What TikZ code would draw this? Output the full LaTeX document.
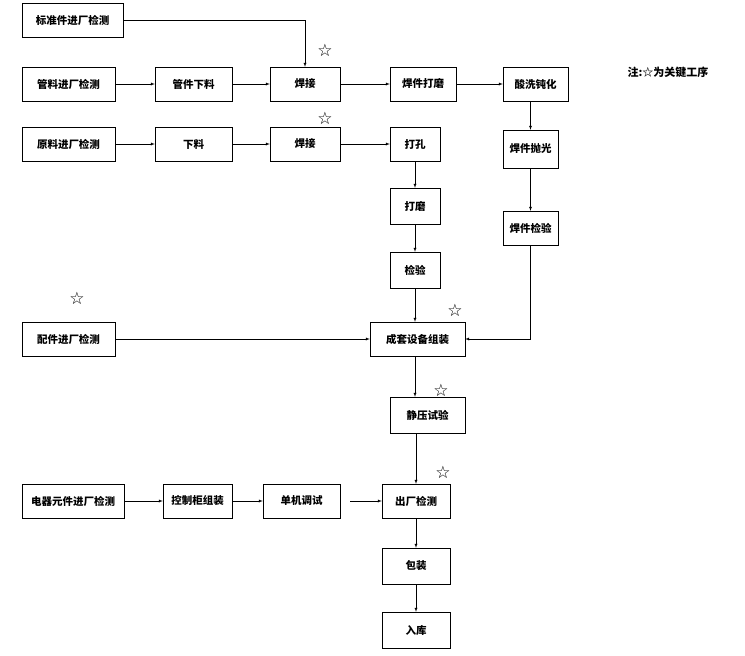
\documentclass[tikz,border=0pt]{standalone}
\usepackage{fontspec}
\newfontfamily\cjk{Noto Sans CJK SC}
\newfontfamily\sym{DejaVu Sans}
\usetikzlibrary{positioning}
\begin{document}
\begin{tikzpicture}[x=1pt, y=-1pt, >=latex,
    box/.style={draw, thin, minimum height=34pt, inner sep=1pt, font=\cjk\bfseries\fontsize{10.5pt}{12pt}\selectfont},
    star/.style={font=\sym\fontsize{17pt}{17pt}\selectfont, inner sep=0pt}]
    \useasboundingbox (0,0) rectangle (745,656);
    % Top rows
    \node[box, minimum width=101pt] (STD) at (72.5,20) {标准件进厂检测};
    \node[box, minimum width=93pt] (G1) at (68.5,84) {管料进厂检测};
    \node[box, minimum width=77pt] (G2) at (193.5,84) {管件下料};
    \node[box, minimum width=70pt] (G3) at (305,84) {焊接};
    \node[box, minimum width=66pt] (G4) at (423,84) {焊件打磨};
    \node[box, minimum width=65pt] (G5) at (535.5,84) {酸洗钝化};
    \node[box, minimum width=93pt] (R1) at (68.5,144) {原料进厂检测};
    \node[box, minimum width=77pt] (R2) at (193.5,144) {下料};
    \node[box, minimum width=70pt] (R3) at (305,144) {焊接};
    \node[box, minimum width=50pt] (R4) at (415,144) {打孔};
    \node[box, minimum width=50pt, minimum height=36pt] (R5) at (415,206) {打磨};
    \node[box, minimum width=50pt, minimum height=36pt] (R6) at (415,270) {检验};
    \node[box, minimum width=55pt, minimum height=38pt] (P1) at (530.5,149) {焊件抛光};
    \node[box, minimum width=55pt] (P2) at (530.5,228) {焊件检验};
    % Assembly
    \node[box, minimum width=93pt] (A1) at (68.5,339) {配件进厂检测};
    \node[box, minimum width=95pt] (A2) at (417.5,339) {成套设备组装};
    \node[box, minimum width=75pt, minimum height=36pt] (S1) at (427.5,415) {静压试验};
    % Electrical
    \node[box, minimum width=102pt] (E1) at (73,501) {电器元件进厂检测};
    \node[box, minimum width=69pt] (E2) at (197.5,501) {控制柜组装};
    \node[box, minimum width=77pt] (E3) at (301.5,501) {单机调试};
    \node[box, minimum width=68pt] (E4) at (416,501) {出厂检测};
    \node[box, minimum width=68pt, minimum height=36pt] (K1) at (416,566) {包装};
    \node[box, minimum width=68pt, minimum height=36pt] (K2) at (416,630) {入库};
    % Stars and note
    \node[star] (T1) at (325,50) {☆};
    \node[star] (T2) at (325,118) {☆};
    \node[star] (T3) at (77,298) {☆};
    \node[star] (T4) at (455,310) {☆};
    \node[star] (T5) at (441,390) {☆};
    \node[star] (T6) at (443,472) {☆};
    \node[font=\cjk\bfseries\fontsize{11pt}{13pt}\selectfont] (NOTE) at (668,72) {注:☆为关键工序};
    % Connections
    \draw[->] (STD.east) -| (G3.north);
    \foreach \a/\b in {G1/G2, G2/G3, G3/G4, G4/G5, R1/R2, R2/R3, R3/R4, E1/E2, E2/E3, A1/A2} {
        \draw[->] (\a) -- (\b);
    }
    \draw[->] (E3.east) ++(10pt,0) coordinate (E3g) (E3g) -- (E4.west);
    \foreach \a/\b in {R4/R5, R5/R6, P1/P2, E4/K1, K1/K2} {
        \draw[->] (\a) -- (\b);
    }
    \draw[->] (G5.south -| P1.north) -- (P1.north);
    \draw[->] (R6.south) -- (A2.north -| R6.south);
    \draw[->] (P2.south) |- (A2.east);
    \draw[->] (A2.south -| R6.south) -- (S1.north -| R6.south);
    \draw[->] (S1.south -| E4.north) -- (E4.north);
\end{tikzpicture}
\end{document}
